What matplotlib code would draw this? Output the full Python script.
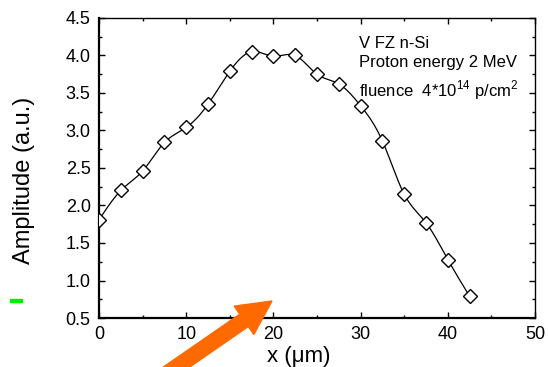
import numpy as np
import matplotlib
matplotlib.use("Agg")
from matplotlib import pyplot as plt
from matplotlib.patches import FancyArrow, Rectangle
from matplotlib.ticker import MultipleLocator

plt.rcParams['font.family'] = ['Liberation Sans', 'DejaVu Sans']
plt.rcParams['mathtext.fontset'] = 'custom'
plt.rcParams['mathtext.rm'] = 'Liberation Sans'

# depth positions and measured amplitudes
x_um = [0, 2.5, 5, 7.5, 10, 12.5, 15, 17.5, 20, 22.5, 25, 27.5, 30, 32.5, 35, 37.5, 40, 42.5]
amplitude = [1.81, 2.20, 2.46, 2.84, 3.04, 3.35, 3.79, 4.05, 3.99, 4.00, 3.75, 3.62,
             3.33, 2.86, 2.15, 1.77, 1.28, 0.79]

info_lines = ["V FZ n-Si", "Proton energy 2 MeV", r"fluence  4*10$^{\mathrm{14}}$ p/cm$^{\mathrm{2}}$"]


# natural cubic spline through the points, for the smooth line
def spline_curve(xs, ys, n=400):
    xs = np.asarray(xs, float)
    ys = np.asarray(ys, float)
    k = len(xs)
    h = np.diff(xs)
    A = np.zeros((k, k))
    r = np.zeros(k)
    A[0, 0] = 1
    A[-1, -1] = 1
    for i in range(1, k - 1):
        A[i, i - 1] = h[i - 1]
        A[i, i] = 2 * (h[i - 1] + h[i])
        A[i, i + 1] = h[i]
        r[i] = 6 * ((ys[i + 1] - ys[i]) / h[i] - (ys[i] - ys[i - 1]) / h[i - 1])
    m = np.linalg.solve(A, r)
    xf = np.linspace(xs[0], xs[-1], n)
    idx = np.clip(np.searchsorted(xs, xf) - 1, 0, k - 2)
    x0, x1 = xs[idx], xs[idx + 1]
    hh = x1 - x0
    t0 = x1 - xf
    t1 = xf - x0
    yf = (m[idx] * t0**3 / (6 * hh) + m[idx + 1] * t1**3 / (6 * hh)
          + (ys[idx] / hh - m[idx] * hh / 6) * t0
          + (ys[idx + 1] / hh - m[idx + 1] * hh / 6) * t1)
    return xf, yf


fig = plt.figure(figsize=(5.48, 3.67), dpi=100)
ax = fig.add_axes([0.1807, 0.1335, 0.7956, 0.8175])

xs, ys = spline_curve(x_um, amplitude)
ax.plot(xs, ys, color='black', lw=0.9, zorder=2)
ax.plot(x_um, amplitude, linestyle='none', marker='D', markersize=7,
        markerfacecolor='white', markeredgecolor='black', markeredgewidth=1.0, zorder=3)

ax.set_xlim(0, 50)
ax.set_ylim(0.5, 4.5)
ax.xaxis.set_major_locator(MultipleLocator(10))
ax.xaxis.set_minor_locator(MultipleLocator(5))
ax.yaxis.set_major_locator(MultipleLocator(0.5))
ax.yaxis.set_minor_locator(MultipleLocator(0.25))
ax.yaxis.set_major_formatter(matplotlib.ticker.FormatStrFormatter('%.1f'))

ax.tick_params(which='both', direction='in', top=True, right=True, width=1.0)
ax.tick_params(which='major', length=4, labelsize=13, pad=6)
ax.tick_params(which='minor', length=2.5)
for side in ['left', 'bottom']:
    ax.spines[side].set_linewidth(1.6)
for side in ['top', 'right']:
    ax.spines[side].set_linewidth(1.0)

ax.set_xlabel("x (μm)", fontsize=16, va='center')
ax.xaxis.set_label_coords(0.459, -0.127)
ax.set_ylabel("Amplitude (a.u.)", fontsize=17, va='center')
ax.yaxis.set_label_coords(-0.172, 0.46)

text_y = [0.90, 0.837, 0.737]
for line, ty in zip(info_lines, text_y):
    ax.text(0.596, ty, line, transform=ax.transAxes, fontsize=12, va='baseline', ha='left')

# orange arrow and green dash overlaid on the figure (pixel units / 100)
arrow = FancyArrow(1.65, 3.67 - 3.75, 2.72 - 1.65, 3.75 - 3.01, width=0.15,
                   head_width=0.345, head_length=0.34, length_includes_head=True,
                   color='#ff6a00', transform=fig.dpi_scale_trans, clip_on=False)
fig.patches.append(arrow)
dash = Rectangle((0.10, 3.67 - 3.02), 0.12, 0.035, color='#00ee00',
                 transform=fig.dpi_scale_trans)
fig.patches.append(dash)

fig.savefig("out.png", dpi=100)
